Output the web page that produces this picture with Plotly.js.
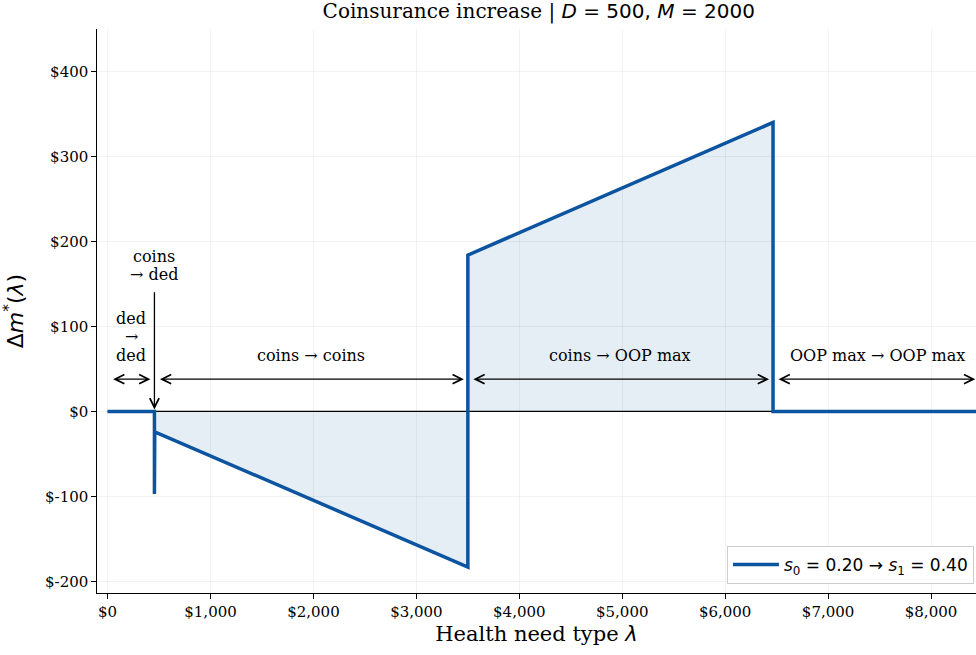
<!DOCTYPE html>
<html>
<head>
<meta charset="utf-8">
<script src="https://cdn.plot.ly/plotly-3.0.1.min.js"></script>
<style>
  html, body { margin: 0; padding: 0; background: #fff; }
  #chart { width: 976px; height: 655px; }
</style>
</head>
<body>
<div id="chart"></div>
<script>
// Change in optimal spending when coinsurance rises from 0.20 to 0.40
const lam = [0, 455, 455, 458, 3500, 3500, 6465, 6465, 8500];
const dm  = [0, 0, -97, -24, -183, 184, 340, 0, 0];

// Regime boundaries on the health-need axis
const bounds = [0, 455, 3500, 6465, 8500];
const regimeLabels = ['coins → coins', 'coins → OOP max', 'OOP max → OOP max'];
const dedLines = ['ded', '→', 'ded'];
const coinsDedLines = ['coins', '→ ded'];

const xTickVals = [0, 1000, 2000, 3000, 4000, 5000, 6000, 7000, 8000];
const xTickText = ['$0', '$1,000', '$2,000', '$3,000', '$4,000', '$5,000', '$6,000', '$7,000', '$8,000'];
const yTickVals = [-200, -100, 0, 100, 200, 300, 400];
const yTickText = ['$-200', '$-100', '$0', '$100', '$200', '$300', '$400'];

const BLUE = '#0c54a0';
const SERIF = 'DejaVu Serif, serif';
const SANS = 'DejaVu Sans, sans-serif';
const math = s => '<span style="font-family:DejaVu Sans">' + s + '</span>';

const traces = [
  { x: lam, y: dm, type: 'scatter', mode: 'none', fill: 'tozeroy',
    fillcolor: 'rgba(12,84,160,0.10)', showlegend: false, hoverinfo: 'skip' },
  { x: [bounds[0], bounds[bounds.length - 1]], y: [0, 0], type: 'scatter', mode: 'lines',
    line: { color: '#000', width: 1.2 }, showlegend: false, hoverinfo: 'skip' },
  { x: lam, y: dm, type: 'scatter', mode: 'lines',
    line: { color: BLUE, width: 3.5 },
    name: '<i>s</i><sub>0</sub> = 0.20 → <i>s</i><sub>1</sub> = 0.40' }
];

const arrowY = 38;
const labelY = 66;
const txtFont = { family: SERIF, size: 16, color: '#000' };
const annotations = [];
// double-headed span arrows for each regime
for (let i = 0; i < bounds.length - 1; i++) {
  const last = i === bounds.length - 2;
  annotations.push({
    x: last ? 8430 : bounds[i + 1], y: arrowY, ax: bounds[i], ay: arrowY,
    xref: 'x', yref: 'y', axref: 'x', ayref: 'y', text: '',
    showarrow: true, arrowside: 'end+start', arrowhead: 5, startarrowhead: 5,
    arrowsize: 1.4, startarrowsize: 1.4, arrowwidth: 1.3, arrowcolor: '#000',
    standoff: last ? 0 : 4, startstandoff: 4
  });
}
// stacked label for the deductible band, one line each
const dedY = [109, 88, 66];
dedLines.forEach((t, k) => annotations.push({
  x: (bounds[0] + bounds[1]) / 2, y: dedY[k], xref: 'x', yref: 'y', text: t,
  showarrow: false, font: txtFont, xanchor: 'center', yanchor: 'middle'
}));
// remaining regime labels
for (let i = 1; i < bounds.length - 1; i++) {
  annotations.push({ x: (bounds[i] + bounds[i + 1]) / 2, y: labelY, xref: 'x', yref: 'y', text: regimeLabels[i - 1],
    showarrow: false, font: txtFont, xanchor: 'center', yanchor: 'middle' });
}
// narrow coins -> ded band marked with a pointer
annotations.push({
  x: bounds[1], y: 0, ax: bounds[1], ay: 142, xref: 'x', yref: 'y', axref: 'x', ayref: 'y', text: '',
  showarrow: true, arrowhead: 5, arrowsize: 1.4, arrowwidth: 1.3, arrowcolor: '#000', standoff: 2
});
const coinsDedY = [182, 161];
coinsDedLines.forEach((t, k) => annotations.push({
  x: bounds[1], y: coinsDedY[k], xref: 'x', yref: 'y', text: t,
  showarrow: false, font: txtFont, xanchor: 'center', yanchor: 'middle'
}));

const layout = {
  width: 976, height: 655,
  margin: { l: 97, r: 0, t: 29, b: 62 },
  paper_bgcolor: '#fff', plot_bgcolor: '#fff',
  title: {
    text: 'Coinsurance increase | ' + math('<i>D</i> = 500, <i>M</i> = 2000'),
    font: { family: SERIF, size: 20, color: '#000' },
    xref: 'container', x: 0.552, xanchor: 'center',
    yref: 'container', y: 1 - 11 / 655, yanchor: 'middle'
  },
  xaxis: {
    range: [-103, 8437], tickvals: xTickVals, ticktext: xTickText,
    showline: true, linecolor: '#000', linewidth: 1.2, mirror: false,
    ticks: 'outside', ticklen: 4.5, tickwidth: 1, tickcolor: '#000',
    showgrid: true, gridcolor: 'rgba(0,0,0,0.05)', gridwidth: 1, zeroline: false,
    tickfont: { family: SERIF, size: 15, color: '#000' },
    title: { text: 'Health need type ' + math('<i>λ</i>'), font: { family: SERIF, size: 21, color: '#000' }, standoff: 6 }
  },
  yaxis: {
    range: [-213.6, 450], tickvals: yTickVals, ticktext: yTickText,
    showline: true, linecolor: '#000', linewidth: 1.2, mirror: false,
    ticks: 'outside', ticklen: 4.5, tickwidth: 1, tickcolor: '#000',
    showgrid: true, gridcolor: 'rgba(0,0,0,0.05)', gridwidth: 1, zeroline: false,
    tickfont: { family: SERIF, size: 15, color: '#000' },
    title: { text: math('Δ<i>m</i><sup>*</sup>(<i>λ</i>)'), font: { family: SANS, size: 22, color: '#000' }, standoff: 16 }
  },
  showlegend: true,
  legend: {
    x: 0.9977, xanchor: 'right', y: 0.016, yanchor: 'bottom',
    bgcolor: '#fff', bordercolor: '#cccccc', borderwidth: 1,
    itemwidth: 46,
    font: { family: SANS, size: 17, color: '#000' }
  },
  annotations: annotations
};

Plotly.newPlot('chart', traces, layout, { displayModeBar: false, staticPlot: true });
</script>
</body>
</html>
